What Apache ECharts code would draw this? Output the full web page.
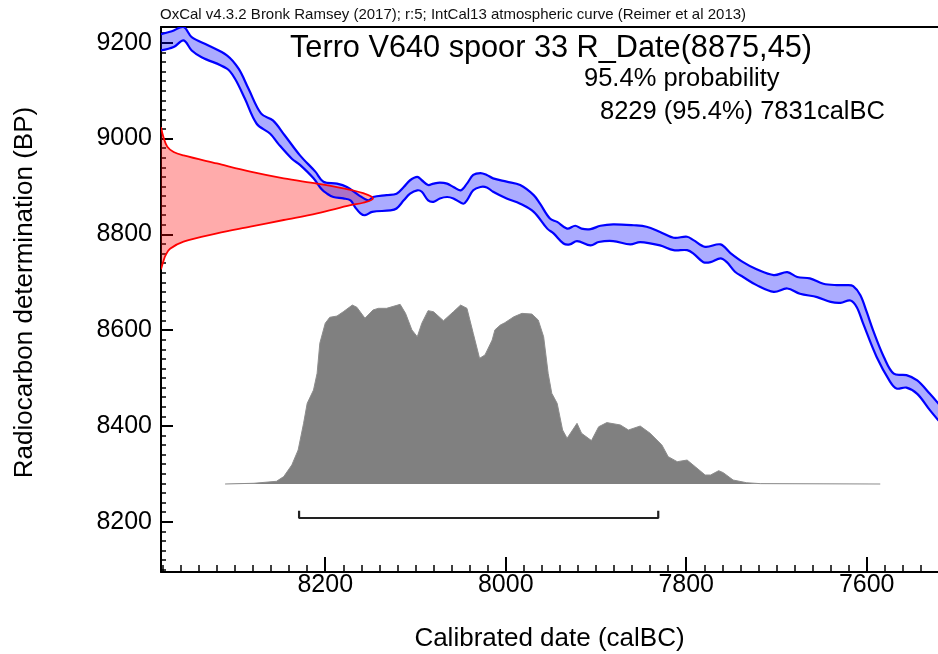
<!DOCTYPE html>
<html>
<head>
<meta charset="utf-8">
<script src="https://cdn.jsdelivr.net/npm/echarts@6/dist/echarts.min.js"></script>
<style>html,body{margin:0;padding:0;background:#fff}#c{width:938px;height:654px}</style>
</head>
<body>
<div id="c"></div>
<script>
// ---- data ----
const xTickLabels = [8200, 8000, 7800, 7600];
const yTickLabels = [8200, 8400, 8600, 8800, 9000, 9200];

// IntCal13 band, upper and lower edges [calBC, BP]
const calUpper = [[8382,9218],[8370,9224],[8357,9233],[8348,9212],[8330,9195],[8309,9174],[8296,9146],[8285,9104],[8271,9052],[8258,9038],[8245,9007],[8228,8965],[8211,8931],[8202,8910],[8187,8906],[8176,8899],[8163,8882],[8152,8871],[8147,8878],[8132,8882],[8121,8885],[8113,8899],[8106,8913],[8098,8920],[8093,8913],[8086,8903],[8080,8906],[8073,8908],[8065,8906],[8058,8899],[8050,8892],[8043,8906],[8036,8924],[8028,8928],[8021,8924],[8014,8917],[7999,8910],[7984,8903],[7969,8882],[7962,8864],[7951,8833],[7943,8826],[7932,8812],[7923,8818],[7916,8812],[7906,8811],[7895,8818],[7881,8821],[7858,8819],[7844,8816],[7829,8805],[7814,8793],[7799,8795],[7792,8788],[7779,8774],[7762,8779],[7751,8761],[7737,8742],[7722,8727],[7703,8715],[7688,8721],[7677,8711],[7663,8708],[7648,8697],[7633,8694],[7622,8694],[7615,8692],[7607,8673],[7600,8638],[7593,8600],[7581,8544],[7570,8509],[7556,8506],[7544,8495],[7530,8467],[7518,8441]];
const calLower = [[8382,9184],[8368,9191],[8357,9205],[8348,9184],[8337,9170],[8309,9146],[8300,9125],[8289,9083],[8276,9031],[8261,9010],[8252,8989],[8237,8958],[8228,8945],[8213,8917],[8204,8894],[8198,8885],[8191,8878],[8180,8875],[8172,8871],[8167,8857],[8161,8844],[8156,8840],[8148,8847],[8128,8850],[8121,8854],[8113,8871],[8106,8885],[8098,8892],[8093,8889],[8086,8871],[8080,8868],[8073,8875],[8065,8878],[8058,8875],[8047,8864],[8043,8871],[8036,8892],[8028,8899],[8021,8898],[8014,8889],[7999,8875],[7984,8864],[7969,8847],[7954,8812],[7947,8802],[7936,8781],[7929,8779],[7921,8786],[7906,8777],[7897,8784],[7881,8786],[7862,8779],[7851,8784],[7829,8777],[7814,8767],[7799,8767],[7792,8760],[7781,8742],[7773,8742],[7762,8750],[7755,8742],[7746,8722],[7737,8711],[7722,8694],[7703,8680],[7688,8687],[7674,8676],[7655,8669],[7640,8659],[7629,8657],[7618,8662],[7611,8648],[7604,8614],[7589,8544],[7574,8492],[7567,8478],[7556,8480],[7544,8467],[7530,8433],[7518,8406]];

// Radiocarbon likelihood R_Date(8875,45): [calBC extent, BP]
const rDate = [[8382,9024],[8379,9001],[8375,8983],[8368,8972],[8357,8965],[8320,8948],[8283,8931],[8246,8917],[8209,8906],[8180,8896],[8158,8886],[8147,8875],[8158,8866],[8172,8861],[8209,8844],[8246,8830],[8283,8816],[8320,8802],[8357,8785],[8372,8770],[8377,8756],[8379,8746],[8382,8727]];

// Calibrated posterior: [calBC, relative probability]
const posterior = [[8311,0],[8279,0.004],[8254,0.015],[8246,0.041],[8237,0.106],[8230,0.189],[8224,0.337],[8220,0.448],[8213,0.522],[8209,0.615],[8206,0.782],[8200,0.893],[8195,0.926],[8187,0.933],[8180,0.957],[8170,0.994],[8165,0.982],[8156,0.921],[8147,0.967],[8141,0.976],[8132,0.976],[8117,0.998],[8111,0.948],[8104,0.856],[8098,0.818],[8093,0.893],[8086,0.963],[8080,0.957],[8069,0.907],[8058,0.957],[8050,0.994],[8043,0.976],[8036,0.837],[8029,0.698],[8023,0.717],[8015,0.8],[8012,0.856],[8006,0.883],[8001,0.896],[7991,0.929],[7982,0.948],[7971,0.944],[7964,0.911],[7958,0.818],[7953,0.615],[7949,0.504],[7943,0.448],[7937,0.3],[7932,0.254],[7921,0.337],[7916,0.282],[7905,0.241],[7897,0.318],[7888,0.341],[7873,0.328],[7864,0.3],[7851,0.322],[7840,0.282],[7827,0.217],[7820,0.152],[7810,0.124],[7799,0.133],[7790,0.096],[7779,0.05],[7773,0.05],[7764,0.074],[7759,0.063],[7748,0.022],[7733,0.007],[7718,0.002],[7585,0]];

// 95.4% range
const range954 = [8229, 7831];

const headerText = 'OxCal v4.3.2 Bronk Ramsey (2017); r:5; IntCal13 atmospheric curve (Reimer et al 2013)';
const titleText = 'Terro V640 spoor 33 R_Date(8875,45)';
const probText = '95.4% probability';
const rangeText = '8229 (95.4%) 7831calBC';

// ---- chart ----
const FONT = "'Liberation Sans', Arial, Helvetica, sans-serif";
const X_MIN = 7521, X_MAX = 8382, Y_MIN = 8095, Y_MAX = 9233;
const SMOOTH = 0.35;
const xMinor = []; for (let v = 7540; v <= 8380; v += 20) xMinor.push(v);
const yMinor = []; for (let v = 8100; v <= 9220; v += 20) yMinor.push(v);

const chart = echarts.init(document.getElementById('c'), null, {renderer: 'canvas'});

const barY0 = -0.189, barY1 = -0.148;
const barData = [[range954[0], barY1], [range954[0], barY0], [range954[1], barY0], [range954[1], barY1]];

const black = '#000';
const option = {
  animation: false,
  backgroundColor: '#fff',
  textStyle: {fontFamily: FONT},
  grid: [
    {left: 161, right: 0, top: 27, bottom: 82, containLabel: false, outerBoundsMode: 'none'},
    {left: 161, right: 0, top: 304, bottom: 125, containLabel: false, outerBoundsMode: 'none'}
  ],
  xAxis: [
    {gridIndex: 0, type: 'value', inverse: true, min: X_MIN, max: X_MAX, position: 'bottom',
     axisLine: {onZero: false, lineStyle: {color: black, width: 2}},
     axisTick: {inside: true, length: 15, customValues: xTickLabels, lineStyle: {color: black, width: 2}},
     axisLabel: {customValues: xTickLabels, formatter: v => String(v), color: black, fontSize: 25, fontFamily: FONT, margin: 1},
     splitLine: {show: false},
     name: 'Calibrated date (calBC)', nameLocation: 'middle', nameGap: 54,
     nameTextStyle: {color: black, fontSize: 26, fontFamily: FONT}},
    {gridIndex: 0, type: 'value', inverse: true, min: X_MIN, max: X_MAX, position: 'bottom',
     axisLine: {show: false, onZero: false},
     axisTick: {inside: true, length: 7, customValues: xMinor, lineStyle: {color: black, width: 1.5}},
     axisLabel: {show: false}, splitLine: {show: false}},
    {gridIndex: 0, type: 'value', inverse: true, min: X_MIN, max: X_MAX, position: 'top',
     axisLine: {onZero: false, lineStyle: {color: black, width: 2}},
     axisTick: {show: false}, axisLabel: {show: false}, splitLine: {show: false}},
    {gridIndex: 1, type: 'value', inverse: true, min: X_MIN, max: X_MAX, show: false}
  ],
  yAxis: [
    {gridIndex: 0, type: 'value', min: Y_MIN, max: Y_MAX, position: 'left',
     axisLine: {show: true, onZero: false, lineStyle: {color: black, width: 2}},
     axisTick: {show: true, inside: true, length: 12, customValues: yTickLabels, lineStyle: {color: black, width: 2}},
     axisLabel: {customValues: yTickLabels, formatter: v => String(v), color: black, fontSize: 25, fontFamily: FONT, margin: 9},
     splitLine: {show: false},
     name: 'Radiocarbon determination (BP)', nameLocation: 'middle', nameGap: 123,
     nameTextStyle: {color: black, fontSize: 26, fontFamily: FONT, padding: [0, 0, 0, 14]}},
    {gridIndex: 0, type: 'value', min: Y_MIN, max: Y_MAX, position: 'left',
     axisLine: {show: false, onZero: false},
     axisTick: {show: true, inside: true, length: 5, customValues: yMinor, lineStyle: {color: black, width: 1.5}},
     axisLabel: {show: false}, splitLine: {show: false}},
    {gridIndex: 1, type: 'value', min: -0.25, max: 1, show: false}
  ],
  graphic: [
    {type: 'text', x: 160, y: 15, style: {text: headerText, font: '15px ' + FONT, fill: '#111', textVerticalAlign: 'middle'}},
    {type: 'text', x: 290, y: 49, style: {text: titleText, font: '30.7px ' + FONT, fill: black, textVerticalAlign: 'middle'}},
    {type: 'text', x: 584, y: 79, style: {text: probText, font: '25.5px ' + FONT, fill: black, textVerticalAlign: 'middle'}},
    {type: 'text', x: 600, y: 112, style: {text: rangeText, font: '25.5px ' + FONT, fill: black, textVerticalAlign: 'middle'}}
  ],
  series: [
    {type: 'custom', name: 'rdate-fill', xAxisIndex: 0, yAxisIndex: 0, data: [0], clip: true, z: 2,
     renderItem: function (params, api) {
       return {type: 'polygon', shape: {points: rDate.map(p => api.coord(p)), smooth: SMOOTH},
               style: {fill: 'rgba(255,0,0,0.33)'}};
     }},
    {type: 'custom', name: 'calcurve', xAxisIndex: 0, yAxisIndex: 0, data: [0], clip: true, z: 3,
     renderItem: function (params, api) {
       const up = calUpper.map(p => api.coord(p));
       const lo = calLower.map(p => api.coord(p));
       return {type: 'group', children: [
         {type: 'polygon', shape: {points: up.concat(lo.slice().reverse()), smooth: SMOOTH},
          style: {fill: 'rgba(0,0,255,0.33)'}},
         {type: 'polyline', shape: {points: up, smooth: SMOOTH}, style: {stroke: '#0000ff', lineWidth: 2.2, fill: null}},
         {type: 'polyline', shape: {points: lo, smooth: SMOOTH}, style: {stroke: '#0000ff', lineWidth: 2.2, fill: null}}
       ]};
     }},
    {type: 'custom', name: 'rdate-line', xAxisIndex: 0, yAxisIndex: 0, data: [0], clip: true, z: 5,
     renderItem: function (params, api) {
       return {type: 'polyline', shape: {points: rDate.map(p => api.coord(p)), smooth: SMOOTH},
               style: {stroke: '#ff0000', lineWidth: 1.8, fill: null}};
     }},
    {type: 'line', name: 'posterior', xAxisIndex: 3, yAxisIndex: 2, data: posterior, showSymbol: false, clip: false, z: 2,
     lineStyle: {color: '#8c8c8c', width: 1}, areaStyle: {color: '#808080', opacity: 1}},
    {type: 'line', name: 'range', xAxisIndex: 3, yAxisIndex: 2, data: barData, showSymbol: false, clip: false, z: 2,
     lineStyle: {color: '#222', width: 2.2}}
  ]
};
chart.setOption(option);
</script>
</body>
</html>
